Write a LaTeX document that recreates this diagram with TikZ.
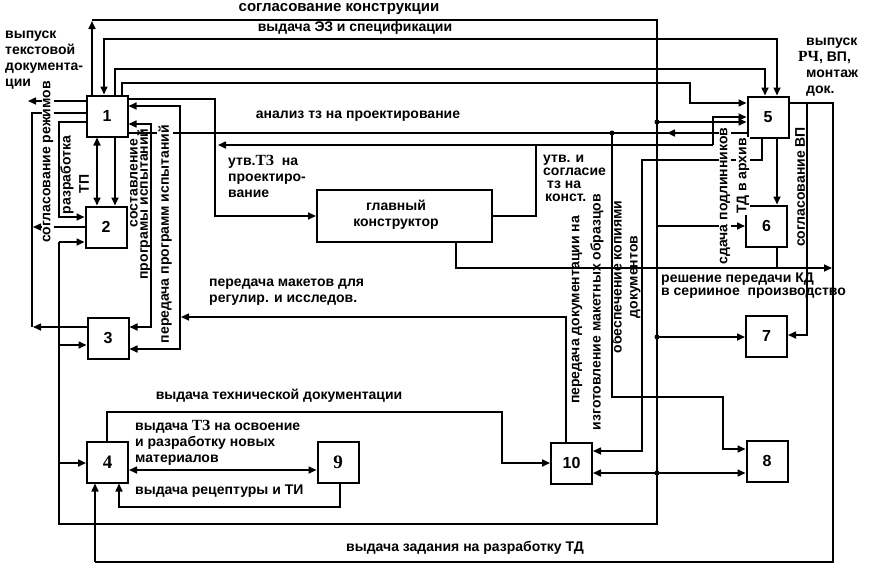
\documentclass[tikz,border=0pt]{standalone}
\usepackage{fontspec}
\setmainfont{Liberation Sans}
\newfontfamily\serifb{Liberation Serif}
\usetikzlibrary{arrows.meta}
\newcommand\lblf{\bfseries\fontsize{14}{16}\selectfont}
\newcommand\lblt{\bfseries\fontsize{14}{13}\selectfont}
\newcommand\tz[1]{{\serifb\bfseries\fontsize{15.5}{16}\selectfont #1}}
\begin{document}
\begin{tikzpicture}[x=1pt,y=-1pt,
  box/.style={draw,line width=2pt,minimum width=41pt,minimum height=41pt,inner sep=0pt,font=\bfseries\fontsize{16}{18}\selectfont},
  sbox/.style={box,font=\serifb\bfseries\fontsize{19}{20}\selectfont},
  ln/.style={line width=1.6pt},
  arr/.style={ln,-{Triangle[length=8pt,width=7pt]}},
  darr/.style={ln,{Triangle[length=8pt,width=7pt]}-{Triangle[length=8pt,width=7pt]}},
  jdot/.style={circle,fill,inner sep=0pt,minimum size=5pt},
  lbl/.style={font=\lblf,inner sep=0pt,align=left},
  tlbl/.style={font=\lblt,inner sep=0pt,align=left},
  vlbl/.style={lbl,rotate=90,align=center},
]
\useasboundingbox (0,0) rectangle (874,573);

% ---------- boxes ----------
\node[box] (b1) at (107,116) {1};
\node[box] (b2) at (106,227) {2};
\node[box] (b3) at (108,338) {3};
\node[sbox] (b4) at (107.5,462) {4};
\node[box] (b5) at (768,117) {5};
\node[box] (b6) at (766.5,226) {6};
\node[box] (b7) at (766.5,336) {7};
\node[box] (b8) at (767,461) {8};
\node[sbox] (b9) at (338,462) {9};
\node[box] (b10) at (571.5,463) {10};
\node[draw,line width=2pt,minimum width=175pt,minimum height=52pt,inner sep=0pt] (gk) at (404.5,216) {};
\node[lbl,align=center] (gkt) at (396,215) {главный\\конструктор};

% ---------- top bus (согласование конструкции) ----------
\draw[arr] (b1.north -| 92,0) -- (92,21);
\draw[ln] (92,20) -- (657,20) -- (657,524) -- (59,524) -- (59,242);
\draw[arr] (59,242) -- (b2.west |- 0,242);
\draw[arr] (59,345) -- (b3.west |- 0,345);
\draw[arr] (59,463) -- (b4.west |- 0,463);
\draw[arr] (657,122) -- (b5.west |- 0,122);
\draw[arr] (657,226) -- (b6.west |- 0,226);
\draw[arr] (657,337) -- (b7.west |- 0,337);
\draw[darr] (b10.east |- 0,473) -- (b8.west |- 0,473);
\node[jdot] (d1) at (657,122) {};
\node[jdot] (d2) at (657,337) {};
\node[jdot] (d3) at (657,473) {};

% ---------- other top lines ----------
\draw[darr] (b1.north -| 104,0) -- (104,39) -- (777,39) -- (b5.north -| 777,0);
\draw[arr] (b1.north -| 115,0) -- (115,69) -- (765,69) -- (b5.north -| 765,0);
\draw[arr] (b1.north -| 122,0) -- (122,83) -- (690,83) -- (690,103) -- (b5.west |- 0,103);

% ---------- box 1 right side ----------
\draw[arr] (b1.east |- 0,99) -- (215,99) -- (215,216) -- (gk.west);
\draw[darr] (b1.east |- 0,106) -- (180,106) -- (180,349) -- (b3.east |- 0,349);
\draw[darr] (b1.east |- 0,124) -- (151,124) -- (151,327) -- (b3.east |- 0,327);
\draw[ln] (b1.east |- 0,133) -- (670,133);
\draw[arr] (b5.west |- 0,133) -- (667,133);
\node[jdot] (d4) at (612,133) {};
\draw[arr] (612,133) -- (612,397) -- (723,397) -- (723,449) -- (b8.west |- 0,449);

% утв. ТЗ / утв. и согласие
\draw[arr] (713,145) -- (218,145);
\draw[arr] (713,145) -- (713,117) -- (b5.west |- 0,117);
\draw[ln] (gk.east) -- (536,216) -- (536,145);

% передача макетов
\draw[arr] (b10.north -| 566,0) -- (566,317) -- (181,317);

% обеспечение копиями
\draw[arr] (b5.south -| 762,0) -- (762,160) -- (642,160) -- (642,451) -- (b10.east |- 0,451);

% box 5 -> 6, 6 -> line, решение передачи
\draw[arr] (b5.south -| 777,0) -- (b6.north -| 777,0);
\draw[ln] (b6.south -| 777,0) -- (777,268);
\draw[arr] (gk.south -| 456,0) -- (456,268) -- (832,268);

% box 5 right
\draw[ln] (b5.east |- 0,103) -- (833,103) -- (833,562) -- (95,562);
\draw[arr] (95,562) -- (b4.south -| 95,0);
\draw[arr] (807,103) -- (807,335) -- (b7.east |- 0,335);

% ---------- box 1 left side ----------
\draw[arr] (b1.west |- 0,101) -- (28,101);
\draw[ln] (b1.west |- 0,113) -- (32,113) -- (32,327);
\draw[arr] (b3.west |- 0,327) -- (33,327);
\draw[arr] (b2.west |- 0,227) -- (33,227);
\draw[arr] (b1.west |- 0,122) -- (59,122) -- (59,217) -- (b2.west |- 0,217);

% box 1 <-> box 2
\draw[darr] (b1.south -| 97,0) -- (b2.north -| 97,0);
\draw[arr] (b1.south -| 115,0) -- (b2.north -| 115,0);

% ---------- lower part ----------
\draw[arr] (b4.north -| 107,0) -- (107,412) -- (502,412) -- (502,463) -- (b10.west |- 0,463);
\draw[darr] (b4.east |- 0,470) -- (b9.west |- 0,470);
\draw[arr] (b9.south -| 340,0) -- (340,507) -- (119,507) -- (b4.south -| 119,0);

% ---------- horizontal labels ----------
\node[lbl,font=\bfseries\fontsize{15}{16}\selectfont] (t1) at (339,9) {согласование конструкции};
\node[lbl] (t2) at (355,28) {выдача ЭЗ и спецификации};
\node[lbl] (t3) at (358,116) {анализ тз на проектирование};
\node[lbl,anchor=west] (t4) at (228,176) {утв.\tz{ТЗ}\ \ на\\проектиро-\\вание};
\node[tlbl,anchor=west] (t5) at (543,178) {утв. и\\согласие\\\hspace*{4pt}тз на\\\hspace*{2pt}конст.};
\node[lbl,anchor=west] (t6) at (209,292) {передача макетов для\\регулир. и исследов.};
\node[tlbl,anchor=west] (t7) at (661,286) {решение передачи КД\\в серииное \ производство};
\node[lbl] (t8) at (279,396) {выдача технической документации};
\node[lbl,anchor=west] (t9) at (135,443) {выдача \tz{ТЗ} на освоение\\и разработку новых\\материалов};
\node[lbl,anchor=west] (t10) at (135,491) {выдача рецептуры и ТИ};
\node[lbl] (t11) at (465,548) {выдача задания на разработку ТД};
\node[lbl,anchor=west] (t12) at (5,60) {выпуск\\текстовой\\документа-\\ции};
\node[lbl,anchor=west] (t13) at (806,67) {выпуск\\\hspace*{-8pt}\tz{РЧ}, ВП,\\монтаж\\док.};

% ---------- vertical labels ----------
\node[vlbl,fill=white,inner sep=1pt] (v1) at (48,162) {согласование режимов};
\node[vlbl] (v2) at (67,175) {разработка};
\node[vlbl] (v3) at (84,184) {ТП};
\node[vlbl] (v4) at (134,183) {составление};
\node[vlbl] (v5) at (144,204) {програмы испытаний};
\node[vlbl,fill=white,inner sep=1pt] (v6) at (165,234) {передача программ испытаний};
\node[vlbl] (v7) at (577,310) {передача документации на};
\node[vlbl] (v8) at (597,312) {изготовление макетных образцов};
\node[vlbl] (v9) at (626,277) {обеспечение копиями\\документов};
\node[vlbl,fill=white,inner sep=1pt] (v10) at (725,196) {сдача подлинников};
\node[vlbl,fill=white,inner sep=1pt] (v11) at (743,176) {ТД в архив};
\node[vlbl] (v12) at (800,187) {согласование ВП};
\end{tikzpicture}
\end{document}
